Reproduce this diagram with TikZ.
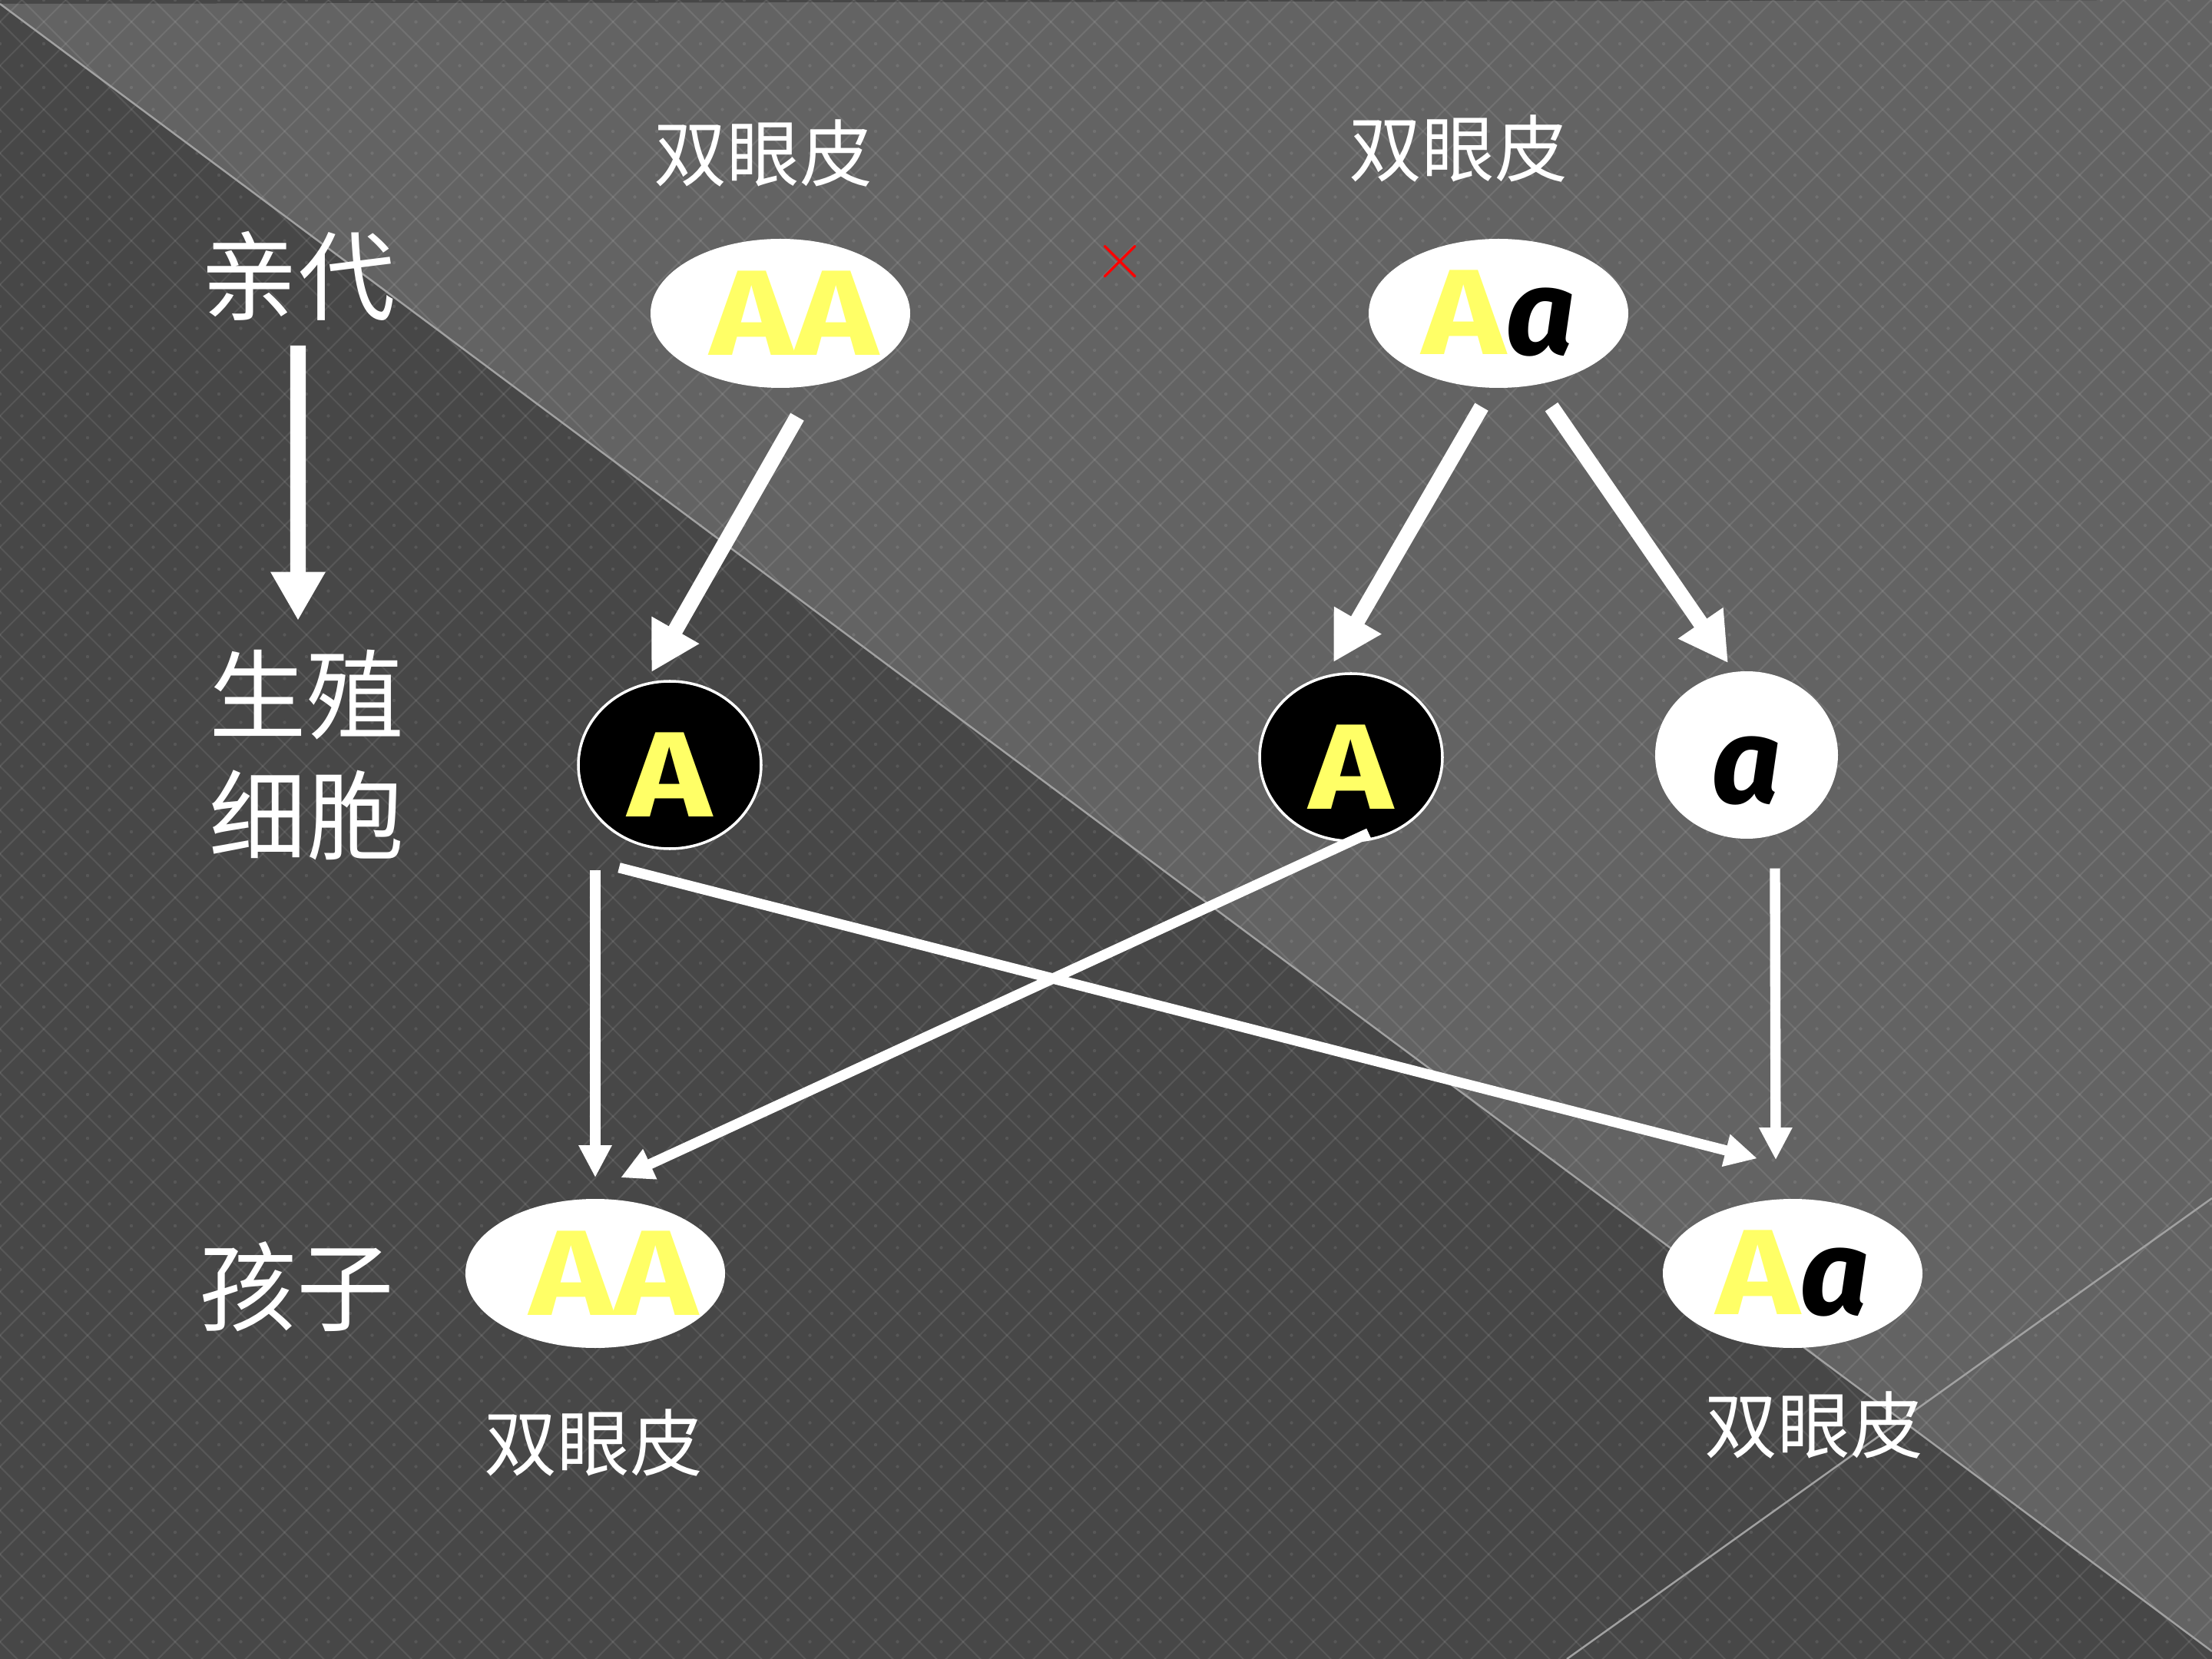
\documentclass[tikz,border=0pt]{standalone}
\usepackage{fontspec}
\usepackage{xcolor}
\usepackage{tikz}
\usetikzlibrary{arrows.meta,shapes.geometric}
\newfontfamily\cjk{Noto Sans CJK SC}
\newfontfamily\gene{Fira Sans}
\definecolor{bgdark}{HTML}{474747}
\definecolor{bglight}{HTML}{636363}
\definecolor{geneyellow}{HTML}{FFFF66}
\newcommand\domA{\textcolor{geneyellow}{\scalebox{1.17}[1]{A}}}
\newcommand\reca{\textcolor{black}{\itshape a}}
\tikzset{
  hatch/.style={white,opacity=0.09,line width=0.6pt},
  speck/.style={white,opacity=0.09},
  seam/.style={draw=white!40!bglight,line width=0.7pt},
  cnlabel/.style={text=white,font=\cjk\fontsize{27}{27}\selectfont},
  stage/.style={text=white,font=\cjk\fontsize{36}{44.7}\selectfont,align=center},
  geno/.style={ellipse,fill=white,inner sep=0pt,minimum width=3.38cm,minimum height=1.94cm,
    font=\gene\bfseries\fontsize{45}{45}\selectfont},
  gamete/.style={ellipse,inner sep=0pt,minimum width=2.38cm,minimum height=2.18cm,
    font=\gene\bfseries\fontsize{45}{45}\selectfont},
  bigarrow/.style={white,line width=5.7pt,-{Triangle[length=18pt,width=19pt]}},
  thinarrow/.style={white,line width=3.8pt,-{Triangle[length=12pt,width=11.5pt]}},
}

\begin{document}
\begin{tikzpicture}[x=1cm,y=1cm]
\useasboundingbox (0,0) rectangle (28.8,-21.6);
\fill[bgdark] (0,0) rectangle (28.8,-21.6);
\fill[bglight] (0,-0.05) -- (28.8,-21.5) -- (28.8,0) -- cycle;
\begin{scope}
  \clip (0,0) rectangle (28.8,-21.6);
  \foreach \k in {-40,...,90} {
    \draw[hatch] (\k*0.57+0.285,0) -- ++(-23,-23);
    \draw[hatch] (\k*0.57+0.285,0) -- ++(23,-23);
  }
  \foreach \i in {0,...,50}
    \foreach \j in {0,...,38}
      \fill[speck] (\i*0.57,-\j*0.57) circle (0.022)
        (\i*0.57+0.285,-\j*0.57-0.285) circle (0.022);
\end{scope}
\draw[seam] (0,-0.05) -- (28.8,-21.5);
\draw[seam] (28.8,-15.6) -- (20.4,-21.6);

\node[stage] (par) at (3.88,-3.60) {亲代};
\node[stage] (gam) at (3.99,-9.83) {生殖\\细胞};
\node[stage] (kid) at (3.86,-16.75) {孩子};

\node[cnlabel] (trait1) at (9.94,-1.99) {双眼皮};
\node[cnlabel] (trait2) at (18.99,-1.93) {双眼皮};
\node[cnlabel] (trait3) at (7.73,-18.78) {双眼皮};
\node[cnlabel] (trait4) at (23.62,-18.55) {双眼皮};
\node[text=red,font=\fontsize{26}{26}\selectfont] (cross) at (14.58,-3.41) {$\times$};

\node[geno] (AAp) at (10.16,-4.08) {\makebox[0pt]{\hspace*{0.36cm}\domA\domA}};
\node[geno] (Aap) at (19.51,-4.08) {\makebox[0pt]{\domA\reca}};
\node[gamete,fill=black,draw=white,line width=1pt,text height=1.34cm] (gA1) at (8.72,-9.96) {\domA};
\node[gamete,fill=black,draw=white,line width=1pt,text height=1.34cm] (gA2) at (17.59,-9.86) {\domA};
\node[gamete,fill=white,text height=1.28cm] (ga) at (22.74,-9.83) {\reca};
\node[geno] (AAc) at (7.75,-16.58) {\makebox[0pt]{\hspace*{0.48cm}\domA\domA}};
\node[geno] (Aac) at (23.34,-16.58) {\makebox[0pt]{\domA\reca}};

\draw[bigarrow] ([yshift=-0.9cm]par.center) -- ([xshift=-0.11cm,yshift=1.75cm]gam.center);
\draw[bigarrow] ([xshift=0.22cm,yshift=-0.37cm]AAp.south) -- ([xshift=-0.24cm,yshift=0.10cm]gA1.north);
\draw[bigarrow] ([xshift=-0.22cm,yshift=-0.24cm]Aap.south) -- ([xshift=-0.23cm,yshift=0.13cm]gA2.north);
\draw[bigarrow] ([xshift=0.69cm,yshift=-0.24cm]Aap.south) -- ([xshift=-0.24cm,yshift=0.10cm]ga.north);
\draw[thinarrow] ([xshift=-0.97cm,yshift=-0.26cm]gA1.south) -- ([yshift=0.27cm]AAc.north);
\draw[thinarrow] ([xshift=-0.66cm,yshift=-0.23cm]gA1.south) -- ([xshift=-0.46cm,yshift=0.52cm]Aac.north);
\draw[thinarrow] ([xshift=0.23cm,yshift=0.12cm]gA2.south) -- ([xshift=0.33cm,yshift=0.27cm]AAc.north);
\draw[thinarrow] ([xshift=0.37cm,yshift=-0.38cm]ga.south) -- ([xshift=-0.22cm,yshift=0.50cm]Aac.north);
\end{tikzpicture}
\end{document}
